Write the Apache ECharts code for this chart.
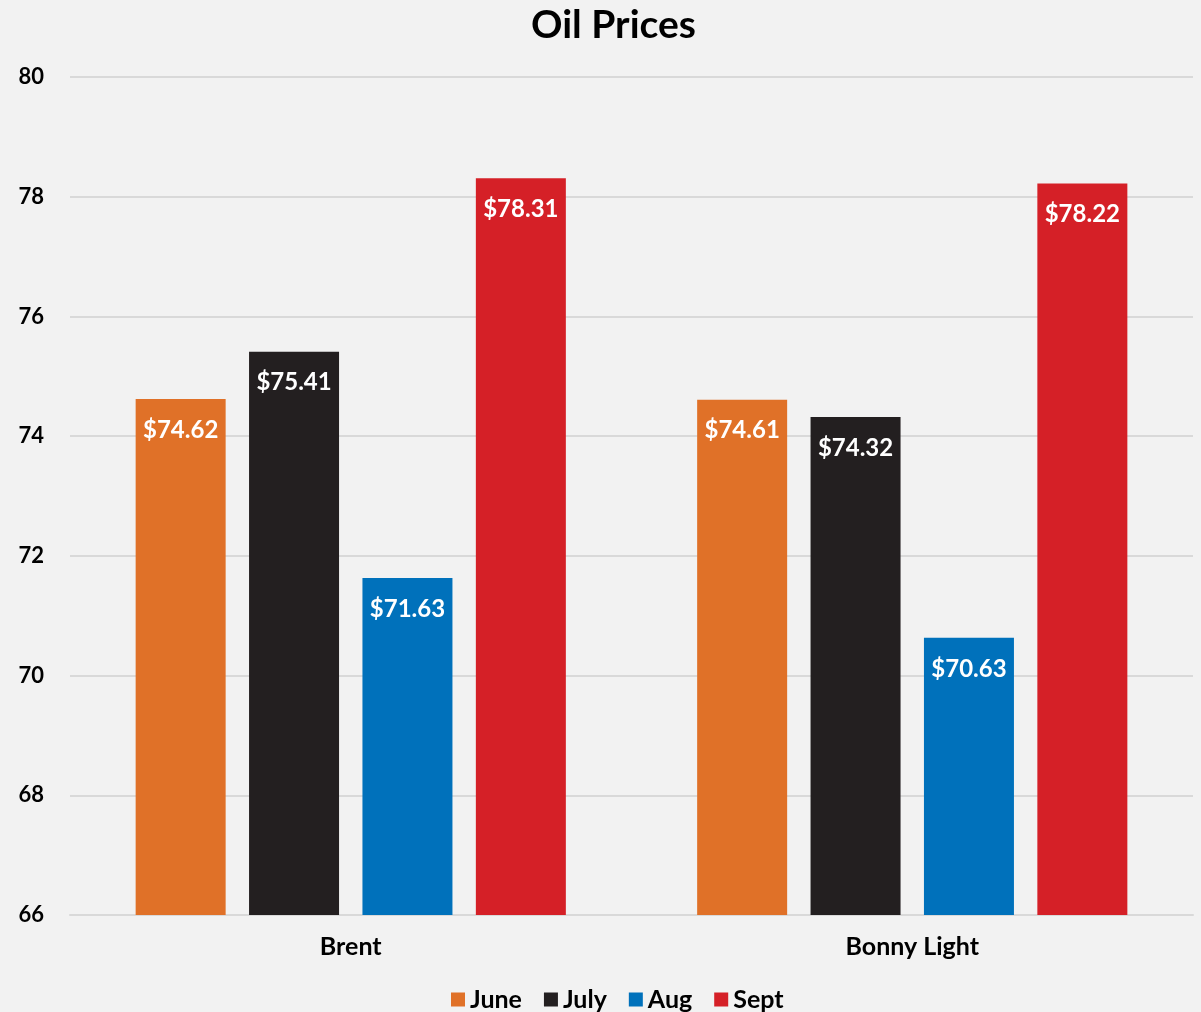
<!DOCTYPE html>
<html>
<head>
<meta charset="utf-8">
<script src="https://cdn.jsdelivr.net/npm/echarts@6/dist/echarts.min.js"></script>
<style>
  html, body { margin: 0; padding: 0; background: #f2f2f2; }
  #chart { width: 1201px; height: 1012px; }
</style>
</head>
<body>
<div id="chart"></div>
<script>
// Crude oil benchmarks, monthly average price (USD per barrel)
const categories = ['Brent', 'Bonny Light'];
const months = ['June', 'July', 'Aug', 'Sept'];
const june = [74.62, 74.61];
const july = [75.41, 74.32];
const aug = [71.63, 70.63];
const sept = [78.31, 78.22];
const colors = ['#e07128', '#231f20', '#0071bb', '#d52027'];

const FONT = 'Lato, "Open Sans", sans-serif';
const seriesData = [june, july, aug, sept];

const chart = echarts.init(document.getElementById('chart'));
chart.setOption({
  backgroundColor: '#f2f2f2',
  animation: false,
  textStyle: { fontFamily: FONT },
  title: {
    text: 'Oil Prices',
    left: 526,
    top: 1,
    textStyle: { fontFamily: FONT, fontSize: 39, fontWeight: 'bold', color: '#000' }
  },
  legend: {
    bottom: -5,
    left: 446,
    itemWidth: 14,
    itemHeight: 14,
    itemGap: 22,
    icon: 'rect',
    textStyle: { fontFamily: FONT, fontSize: 25, fontWeight: 'bold', color: '#000' },
    data: months
  },
  grid: { left: 70, right: 8, top: 77, bottom: 97, containLabel: false },
  xAxis: {
    type: 'category',
    data: categories,
    axisTick: { show: false },
    axisLine: { show: true, lineStyle: { color: '#d9d9d9', width: 2 } },
    axisLabel: { fontFamily: FONT, fontSize: 25, fontWeight: 'bold', color: '#000', margin: 19 }
  },
  yAxis: {
    type: 'value',
    min: 66,
    max: 80,
    interval: 2,
    axisLine: { show: false },
    axisTick: { show: false },
    splitLine: { lineStyle: { color: '#d9d9d9', width: 2 } },
    axisLabel: { fontFamily: FONT, fontSize: 22, fontWeight: 'bold', color: '#000', margin: 26 }
  },
  series: months.map((m, i) => ({
    name: m,
    type: 'bar',
    data: seriesData[i],
    barWidth: 90,
    barGap: '26%',
    barCategoryGap: '23.4%',
    itemStyle: { color: colors[i] },
    label: {
      show: true,
      position: 'insideTop',
      distance: 19,
      fontFamily: FONT,
      fontSize: 24,
      fontWeight: 'bold',
      color: '#fff',
      formatter: p => '$' + p.value.toFixed(2)
    }
  }))
});
</script>
</body>
</html>
